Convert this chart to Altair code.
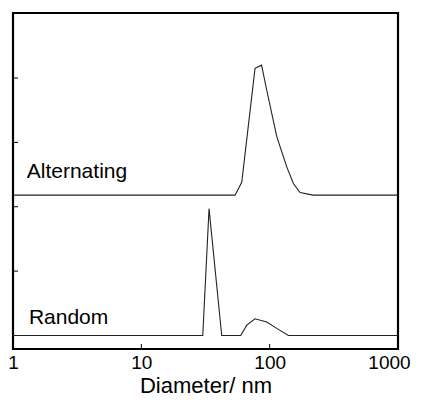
import altair as alt
import pandas as pd

# Alternating curve (diameter nm, intensity offset)
alt_d = [1, 53.7, 60.6, 76.9, 86.5, 94.9, 113.6, 135.9, 153.0, 172.6, 217.9, 1000]
alt_v = [2.18, 2.18, 2.38, 4.15, 4.20, 3.81, 3.09, 2.62, 2.36, 2.22, 2.18, 2.18]
# Random curve
rnd_d = [1, 30.1, 33.7, 42.3, 59.5, 66.3, 76.9, 94.9, 113.6, 139.9, 1000]
rnd_v = [0, 0, 1.97, 0, 0, 0.16, 0.26, 0.21, 0.11, 0, 0]

x_ticks = [1, 10, 100, 1000]
x_inner_ticks = [10, 100]
y_ticks = [1, 2, 3, 4]

labels = ["Alternating", "Random"]
label_d = [1.28, 1.33]
label_v = [2.45, 0.18]

W, H = 385, 336

curves = pd.DataFrame({
    "d": alt_d + rnd_d,
    "v": alt_v + rnd_v,
    "s": ["Alternating"] * len(alt_d) + ["Random"] * len(rnd_d),
})
xs = alt.Scale(type="log", domain=[1, 1000], nice=False)
ys = alt.Scale(domain=[-0.21, 5.01], nice=False, zero=False)

lines = alt.Chart(curves).mark_line(color="#222222", strokeWidth=1.1).encode(
    x=alt.X("d:Q", scale=xs, axis=alt.Axis(
        values=x_ticks, format="d", title="Diameter/ nm", grid=False,
        domain=False, ticks=False, labelFlush=False, labelFontSize=19,
        labelOffset={"condition": {"test": "datum.value == 1000", "value": -9}, "value": 0},
        labelFont="Liberation Sans", labelColor="black", labelPadding=4,
        titleFontSize=22, titleFont="Liberation Sans", titleFontWeight="normal",
        titleColor="black", titlePadding=3)),
    y=alt.Y("v:Q", scale=ys, axis=None),
    detail="s:N",
)

xt = alt.Chart(pd.DataFrame({"d": x_inner_ticks})).mark_rule(color="black", strokeWidth=1).encode(
    x=alt.X("d:Q", scale=xs), y=alt.value(H), y2=alt.value(H - 5))
yt = alt.Chart(pd.DataFrame({"v": y_ticks})).mark_rule(color="black", strokeWidth=1).encode(
    y=alt.Y("v:Q", scale=ys), x=alt.value(0), x2=alt.value(5))

txt = alt.Chart(pd.DataFrame({"d": label_d, "v": label_v, "t": labels})).mark_text(
    align="left", baseline="alphabetic", fontSize=21, font="Liberation Sans", color="black"
).encode(x=alt.X("d:Q", scale=xs), y=alt.Y("v:Q", scale=ys), text="t:N")

chart = alt.layer(lines, xt, yt, txt).properties(
    width=W, height=H,
    background="white",
    autosize=alt.AutoSizeParams(type="none"),
    padding={"left": 5, "top": 5, "right": 16, "bottom": 48},
).configure_view(stroke="black", strokeWidth=2.2)

chart.save("out.html", embed_options={"renderer": "svg", "actions": False})
